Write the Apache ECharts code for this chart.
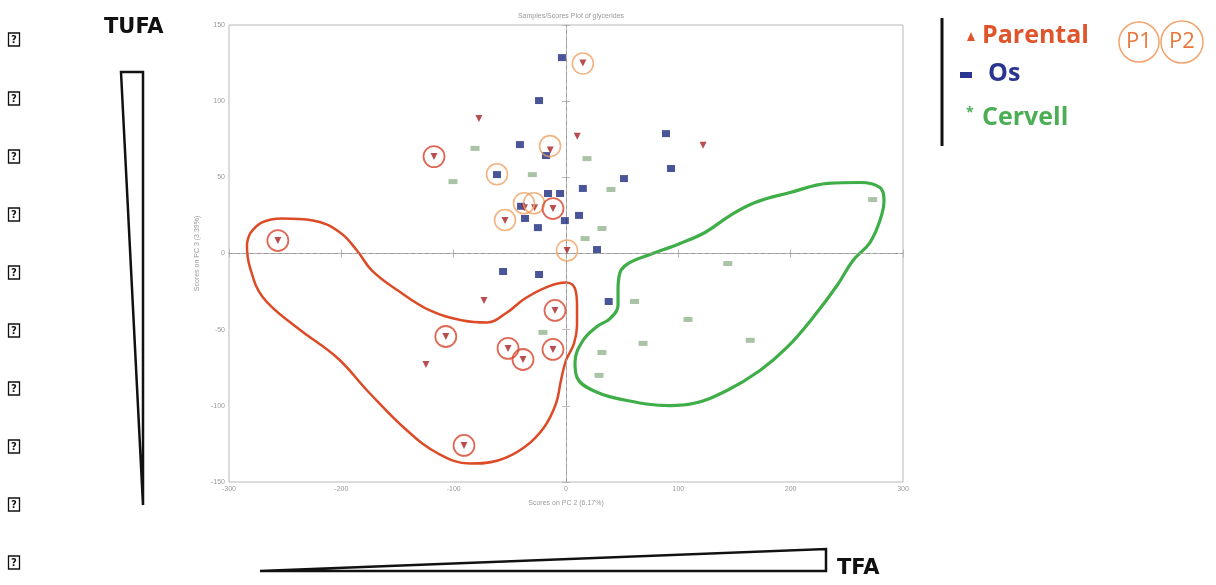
<!DOCTYPE html>
<html>
<head>
<meta charset="utf-8">
<script src="https://cdn.jsdelivr.net/npm/echarts@6/dist/echarts.min.js"></script>
<style>
    html, body { margin: 0; padding: 0; background: #fff; }
    #chart { width: 1216px; height: 585px; }
</style>
</head>
<body>
<div id="chart"></div>
<script>
// data (PC2, PC3 scores)
const parental = [
    [15, 125], [10, 77], [122, 71], [-77.5, 88.6], [-14, 68], [-117.5, 63.6],
    [-37, 30], [-28, 30], [-11.6, 29.5], [-54.3, 21.7], [0.9, 2], [-256.5, 8.5],
    [-73, -30.8], [-9.8, -37.4], [-107, -54.5], [-51.6, -62.3], [-38.3, -69.6],
    [-11.6, -63], [-124.7, -72.8], [-90.8, -126]
];
const os = [
    [-3.6, 128.6], [-24, 100.4], [-41, 71.5], [-17.8, 64.3], [-61.4, 51.8],
    [-16, 39.4], [-5.3, 39.4], [-40, 31], [-36.5, 23], [-25, 17], [-1, 21.6],
    [89, 78.7], [93.5, 55.8], [51.6, 49.2], [15, 42.7], [11.6, 25], [27.6, 2.6],
    [-56, -11.8], [-24, -13.8], [38, -31.5]
];
const cervell = [
    [-81, 69], [-100.6, 47.2], [-30, 51.8], [18.7, 62.3], [40, 42], [32, 16.4],
    [17, 9.8], [273, 35.4], [-20.5, -51.8], [144, -6.6], [61, -31.5],
    [108.6, -43.3], [68.6, -59], [164, -57], [32, -65], [29.4, -80]
];
// circled samples
const ringP1 = [
    [15, 124.7], [-14.2, 70.5], [-61.4, 52], [-37.4, 33], [-28.5, 33], [-54.3, 22], [0.9, 2]
];
const ringP2 = [
    [-117.5, 63.6], [-11.6, 29.5], [-256.5, 8.5], [-9.8, -37.4], [-107, -54.5],
    [-51.6, -62.3], [-38.3, -69.6], [-11.6, -63], [-90.8, -126]
];
// hand drawn group outlines
const redOutline = [
    [-281.3, 13.1], [-270.6, 20.4], [-252.8, 23.0], [-225.2, 21.7], [-201.2, 13.8],
    [-186.1, 2.0], [-172.7, -11.2], [-149.6, -24.3], [-121.1, -37.4], [-91.7, -44.0],
    [-70.3, -45.3], [-52.5, -38.7], [-36.5, -29.5], [-16.0, -21.7], [0, -19.0],
    [8.0, -23.0], [9.8, -34.1], [9.8, -47.3], [7.1, -59.1], [0, -70.2], [-4.5, -83.4],
    [-8.9, -98.5], [-19.6, -114.2], [-37.4, -127.4], [-60.5, -135.9], [-85.5, -137.9],
    [-113.9, -131.3], [-141.5, -116.2], [-174.5, -91.9], [-203.9, -68.3],
    [-239.5, -48.6], [-269.7, -28.9], [-281.3, -9.2], [-284.0, 5.3], [-281.3, 13.1]
];
const greenOutline = [
    [46.3, -24.3], [48.1, -12.5], [57.0, -5.9], [74.8, -0.7], [101.5, 6.6],
    [123.7, 13.8], [146.0, 24.9], [168.3, 33.5], [199.4, 40.0], [233.2, 46.0],
    [261.7, 46.6], [279.5, 43.3], [283.1, 34.8], [279.5, 21.7], [270.6, 7.2],
    [255.5, -4.6], [241.3, -21.0], [219.9, -42.0], [196.7, -61.7], [172.7, -76.8],
    [143.3, -89.9], [113.1, -98.5], [92.6, -99.8], [54.3, -96.5], [24.0, -89.9],
    [9.8, -81.4], [8.0, -71.6], [15.1, -57.1], [27.6, -47.9], [39.2, -42.7],
    [46.3, -34.1], [46.3, -24.3]
];
const xTicks = { min: -300, max: 300, step: 100 };
const yTicks = { min: -150, max: 150, step: 50 };

const chart = echarts.init(document.getElementById('chart'));

const axisGrey = '#b8b8b8';
const tinyLabel = { color: '#999', fontSize: 7, fontFamily: 'Liberation Sans' };

// missing glyph boxes down the left edge
const tofu = [];
[40, 99, 157, 215, 273, 331, 389, 447, 505, 563].forEach(y => {
    tofu.push({ type: 'rect', shape: { x: 8.5, y: y - 7, width: 11, height: 13 }, style: { fill: 'none', stroke: '#111', lineWidth: 1.3 } });
    tofu.push({
        type: 'text', x: 14, y: y,
        style: { text: '?', fontSize: 10, fontWeight: 'bold', fill: '#111', fontFamily: 'DejaVu Sans', align: 'center', verticalAlign: 'middle' }
    });
});

const options = {
    animation: false,
    title: {
        text: 'Samples/Scores Plot of glycerides',
        left: 566, top: 8, textAlign: 'center',
        textStyle: { color: '#999', fontSize: 7, fontWeight: 'normal', fontFamily: 'Liberation Sans' }
    },
    grid: { left: 229, right: 313, top: 25, bottom: 103, show: true, borderColor: axisGrey, borderWidth: 1 },
    xAxis: [{
        type: 'value', min: xTicks.min, max: xTicks.max, interval: xTicks.step,
        name: 'Scores on PC 2 (6.17%)', nameLocation: 'middle', nameGap: 18,
        nameTextStyle: tinyLabel,
        axisLine: { lineStyle: { color: axisGrey } },
        axisTick: { inside: true, length: 4, lineStyle: { color: axisGrey } },
        axisLabel: Object.assign({ margin: 4 }, tinyLabel),
        splitLine: { show: false }
    }, {
        type: 'value', position: 'top', min: xTicks.min, max: xTicks.max, interval: xTicks.step,
        axisLine: { lineStyle: { color: axisGrey } },
        axisTick: { inside: true, length: 4, lineStyle: { color: axisGrey } },
        axisLabel: { show: false }, splitLine: { show: false }
    }],
    yAxis: [{
        type: 'value', min: yTicks.min, max: yTicks.max, interval: yTicks.step,
        name: 'Scores on PC 3 (3.39%)', nameLocation: 'middle', nameGap: 22,
        nameTextStyle: tinyLabel,
        axisLine: { lineStyle: { color: axisGrey } },
        axisTick: { inside: true, length: 4, lineStyle: { color: axisGrey } },
        axisLabel: Object.assign({ margin: 4 }, tinyLabel),
        splitLine: { show: false }
    }, {
        type: 'value', position: 'right', min: yTicks.min, max: yTicks.max, interval: yTicks.step,
        axisLine: { lineStyle: { color: axisGrey } },
        axisTick: { inside: true, length: 4, lineStyle: { color: axisGrey } },
        axisLabel: { show: false }, splitLine: { show: false }
    }],
    series: [
        {
            name: 'axes0', type: 'scatter', data: [], silent: true,
            markLine: {
                symbol: 'none', silent: true, label: { show: false },
                lineStyle: { color: '#a09a96', type: [4, 3], width: 1 },
                data: [{ xAxis: 0 }, { yAxis: 0 }]
            }
        },
        {
            name: 'redOutline', type: 'line', data: redOutline, smooth: 0.4,
            symbol: 'none', lineStyle: { color: '#dc4a26', width: 2.5 }, z: 3
        },
        {
            name: 'greenOutline', type: 'line', data: greenOutline, smooth: 0.4,
            symbol: 'none', lineStyle: { color: '#3fae48', width: 3.2 }, z: 3
        },
        {
            name: 'Cervell', type: 'scatter', data: cervell, symbol: 'rect', symbolSize: [9, 5],
            itemStyle: { color: '#93b58f' }, z: 4
        },
        {
            name: 'Os', type: 'scatter', data: os, symbol: 'rect', symbolSize: [8, 7],
            itemStyle: { color: '#1d2a80' }, z: 5
        },
        {
            name: 'Parental', type: 'scatter', data: parental, symbol: 'triangle', symbolRotate: 180,
            symbolSize: 7, itemStyle: { color: '#a82226' }, z: 6
        },
        {
            name: 'P1', type: 'scatter', data: ringP1, symbol: 'circle', symbolSize: 21,
            itemStyle: { color: 'transparent', borderColor: '#f0a062', borderWidth: 1.6 }, z: 7
        },
        {
            name: 'P2', type: 'scatter', data: ringP2, symbol: 'circle', symbolSize: 21,
            itemStyle: { color: 'transparent', borderColor: '#d4442a', borderWidth: 1.8 }, z: 7
        }
    ],
    graphic: [
        // TUFA wedge
        { type: 'text', left: 104, top: 17, style: { text: 'TUFA', fontSize: 21, fontWeight: 'bold', fill: '#111', fontFamily: 'DejaVu Sans' } },
        { type: 'polygon', shape: { points: [[121, 72], [143, 72], [143, 505]] }, style: { fill: 'none', stroke: '#111', lineWidth: 2.5 } },
        // TFA wedge
        { type: 'polygon', shape: { points: [[260, 571], [826, 549], [826, 571]] }, style: { fill: 'none', stroke: '#111', lineWidth: 2.5 } },
        { type: 'text', left: 837, top: 558, style: { text: 'TFA', fontSize: 21, fontWeight: 'bold', fill: '#111', fontFamily: 'DejaVu Sans' } },
        // legend
        { type: 'line', shape: { x1: 942, y1: 18, x2: 942, y2: 146 }, style: { stroke: '#111', lineWidth: 3 } },
        { type: 'polygon', shape: { points: [[971, 32], [967, 41], [975, 41]] }, style: { fill: '#e0542c' } },
        { type: 'text', left: 982, top: 23, style: { text: 'Parental', fontSize: 25, fontWeight: 'bold', fill: '#e0542c', fontFamily: 'Open Sans' } },
        { type: 'rect', shape: { x: 960, y: 72, width: 12, height: 6 }, style: { fill: '#2a3590' } },
        { type: 'text', left: 988, top: 61, style: { text: 'Os', fontSize: 25, fontWeight: 'bold', fill: '#2a3590', fontFamily: 'Open Sans' } },
        { type: 'text', left: 966, top: 106, style: { text: '*', fontSize: 14, fontWeight: 'bold', fill: '#4bae54', fontFamily: 'Open Sans' } },
        { type: 'text', left: 982, top: 105, style: { text: 'Cervell', fontSize: 25, fontWeight: 'bold', fill: '#4bae54', fontFamily: 'Open Sans' } },
        { type: 'circle', shape: { cx: 1139, cy: 42, r: 20 }, style: { fill: 'none', stroke: '#f2a36e', lineWidth: 1.5 } },
        { type: 'circle', shape: { cx: 1182, cy: 42, r: 21 }, style: { fill: 'none', stroke: '#f2a36e', lineWidth: 1.5 } },
        { type: 'text', x: 1139, y: 42, style: { text: 'P1', fontSize: 22, fill: '#e8783c', fontFamily: 'Open Sans', align: 'center', verticalAlign: 'middle' } },
        { type: 'text', x: 1182, y: 42, style: { text: 'P2', fontSize: 22, fill: '#e8783c', fontFamily: 'Open Sans', align: 'center', verticalAlign: 'middle' } }
    ].concat(tofu)
};

chart.setOption(options);
</script>
</body>
</html>
